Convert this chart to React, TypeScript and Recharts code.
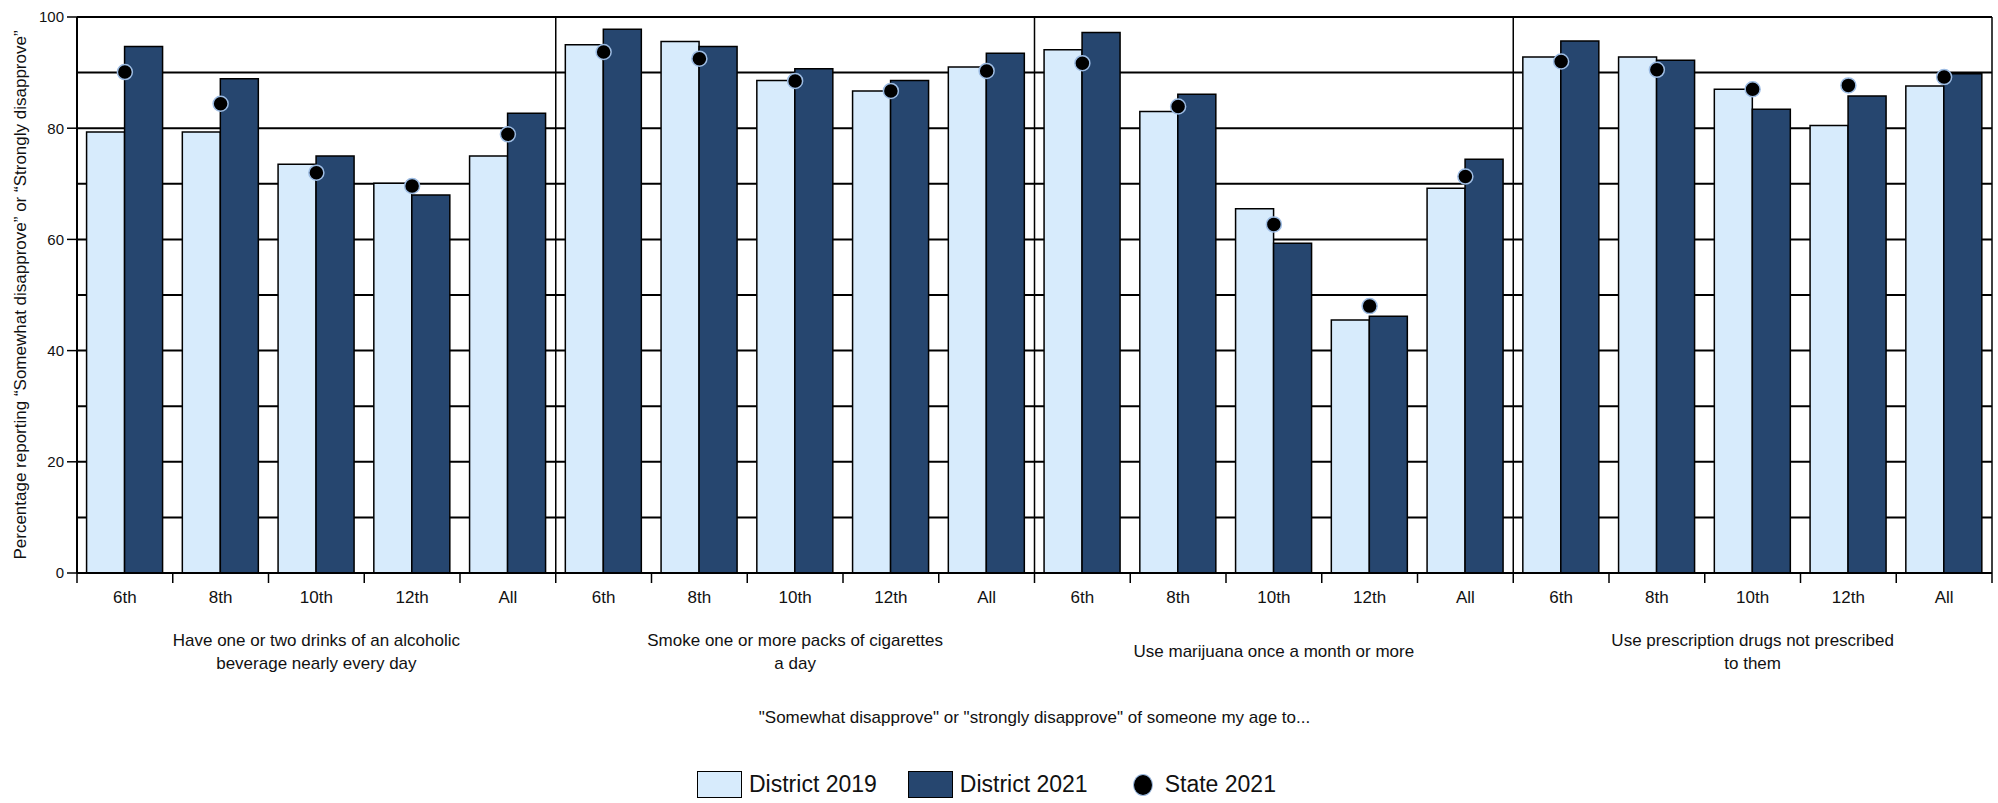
import React from "react";
import {
  ComposedChart,
  Bar,
  Line,
  XAxis,
  YAxis,
  CartesianGrid,
  ReferenceLine,
  Label,
} from "recharts";

const grades = ["6th", "8th", "10th", "12th", "All"];
const groupIds = ["alcohol", "cigarettes", "marijuana", "rx"];
const groupLabels = [
  ["Have one or two drinks of an alcoholic", "beverage nearly every day"],
  ["Smoke one or more packs of cigarettes", "a day"],
  ["Use marijuana once a month or more"],
  ["Use prescription drugs not prescribed", "to them"],
];

const district2019 = [
  79.3, 79.3, 73.5, 70.1, 75.0,
  95.0, 95.6, 88.6, 86.7, 91.0,
  94.1, 83.0, 65.5, 45.5, 69.2,
  92.8, 92.8, 87.0, 80.5, 87.6,
];
const district2021 = [
  94.7, 88.9, 75.0, 68.0, 82.7,
  97.8, 94.7, 90.7, 88.6, 93.5,
  97.2, 86.1, 59.3, 46.2, 74.4,
  95.7, 92.2, 83.4, 85.8, 89.8,
];
const state2021 = [
  90.1, 84.4, 72.0, 69.6, 78.9,
  93.7, 92.5, 88.5, 86.7, 90.3,
  91.7, 83.9, 62.7, 48.0, 71.3,
  92.0, 90.5, 87.0, 87.7, 89.2,
];

const yTicks = [0, 20, 40, 60, 80, 100];
const gridValues = [0, 10, 20, 30, 40, 50, 60, 70, 80, 90, 100];

const LIGHT = "#d7ebfc";
const NAVY = "#26466f";
const DOT_RING = "#9dbce3";
const FONT = "'Liberation Sans', Arial, sans-serif";

const rows = groupIds.flatMap((g, gi) =>
  grades.map((grade, i) => {
    const idx = gi * grades.length + i;
    return {
      key: `${g}-${grade}`,
      grade,
      group: gi,
      pos: i,
      d2019: district2019[idx],
      d2021: district2021[idx],
      state: state2021[idx],
    };
  })
);

const legendItems = [
  { label: "District 2019", kind: "box", color: LIGHT },
  { label: "District 2021", kind: "box", color: NAVY },
  { label: "State 2021", kind: "dot", color: "#000" },
];

// grade label under each bar pair, group label under the middle one,
// and tick marks on the category boundaries
function CategoryTick(props: any) {
  const { x, y, payload, width, visibleTicksCount } = props;
  const row = rows.find((r) => r.key === payload.value);
  if (!row) return null;
  const band = width && visibleTicksCount ? width / visibleTicksCount : 0;
  const isLast = row.key === rows[rows.length - 1].key;
  const lines = groupLabels[row.group];
  return (
    <g>
      <line x1={x - band / 2} x2={x - band / 2} y1={y} y2={y + 10} stroke="#000" strokeWidth={1.5} />
      {isLast && (
        <line x1={x + band / 2} x2={x + band / 2} y1={y} y2={y + 10} stroke="#000" strokeWidth={1.5} />
      )}
      <text x={x} y={y + 30} textAnchor="middle" fontSize={17} fontFamily={FONT} fill="#111">
        {row.grade}
      </text>
      {row.pos === 2 &&
        lines.map((ln, i) => (
          <text
            key={i}
            x={x}
            y={y + (lines.length === 1 ? 84 : 73) + i * 23}
            textAnchor="middle"
            fontSize={17}
            fontFamily={FONT}
            fill="#111"
          >
            {ln}
          </text>
        ))}
    </g>
  );
}

function StateDot(props: any) {
  const { cx, cy } = props;
  if (cx == null || cy == null) return null;
  return <circle cx={cx} cy={cy} r={7.5} fill="#000" stroke={DOT_RING} strokeWidth={1.5} />;
}

export default function App() {
  const groupStarts = rows.filter((r) => r.pos === 0 && r.group > 0);
  return (
    <div style={{ position: "absolute", left: 0, top: 0, width: 1998, height: 803, fontFamily: FONT }}>
      <ComposedChart
        width={1998}
        height={803}
        data={rows}
        margin={{ top: 17, right: 6, left: 0, bottom: 0 }}
        barCategoryGap="10%"
        barGap={0}
      >
        <CartesianGrid
          horizontal
          vertical={false}
          horizontalValues={gridValues}
          stroke="#000"
          strokeWidth={2}
        />
        <XAxis
          dataKey="key"
          interval={0}
          height={230}
          tickSize={0}
          tickMargin={0}
          tickLine={false}
          axisLine={{ stroke: "#000", strokeWidth: 2 }}
          tick={<CategoryTick />}
        >
          <Label
            value={'"Somewhat disapprove" or "strongly disapprove" of someone my age to...'}
            position="insideBottom"
            offset={80}
            style={{ fontSize: 17, fontFamily: FONT, fill: "#111" }}
          />
        </XAxis>
        <YAxis
          domain={[0, 100]}
          ticks={yTicks}
          width={77}
          tickSize={10}
          tickMargin={3}
          interval={0}
          axisLine={{ stroke: "#000", strokeWidth: 2 }}
          tickLine={{ stroke: "#000", strokeWidth: 1.5 }}
          tick={{ fontSize: 15, fontFamily: FONT, fill: "#111" }}
        >
          <Label
            content={(p: any) => {
              const vb = p.viewBox || {};
              const cx = (vb.x || 0) + 20;
              const cy = (vb.y || 0) + (vb.height || 0) / 2;
              return (
                <text
                  x={cx}
                  y={cy}
                  transform={`rotate(-90 ${cx} ${cy})`}
                  textAnchor="middle"
                  dominantBaseline="central"
                  fontSize={17}
                  fontFamily={FONT}
                  fill="#111"
                >
                  Percentage reporting “Somewhat disapprove” or “Strongly disapprove”
                </text>
              );
            }}
          />
        </YAxis>
        {groupStarts.map((r) => (
          <ReferenceLine key={r.key} x={r.key} position="start" stroke="#000" strokeWidth={1.5} />
        ))}
        <ReferenceLine x={rows[rows.length - 1].key} position="end" stroke="#000" strokeWidth={1.5} />
        <Bar dataKey="d2019" name="District 2019" fill={LIGHT} stroke="#000" strokeWidth={1.5} isAnimationActive={false} />
        <Bar dataKey="d2021" name="District 2021" fill={NAVY} stroke="#000" strokeWidth={1.5} isAnimationActive={false} />
        <Line
          dataKey="state"
          name="State 2021"
          stroke="none"
          dot={<StateDot />}
          activeDot={false}
          isAnimationActive={false}
        />
      </ComposedChart>
      <div
        style={{
          position: "absolute",
          top: 771,
          left: 697,
          display: "flex",
          alignItems: "center",
          fontSize: 23,
          color: "#111",
        }}
      >
        {legendItems.map((it) => (
          <div key={it.label} style={{ display: "flex", alignItems: "center", marginRight: it.kind === "box" ? 31 : 0 }}>
            {it.kind === "box" ? (
              <div
                style={{
                  width: 45,
                  height: 27,
                  boxSizing: "border-box",
                  background: it.color,
                  border: "1.5px solid #000",
                  marginRight: 7,
                }}
              />
            ) : (
              <div
                style={{
                  width: 20,
                  height: 22,
                  borderRadius: "50%",
                  boxSizing: "border-box",
                  background: it.color,
                  border: `1.5px solid ${DOT_RING}`,
                  marginLeft: 14,
                  marginRight: 12,
                }}
              />
            )}
            <span style={{ lineHeight: "27px" }}>{it.label}</span>
          </div>
        ))}
      </div>
    </div>
  );
}
